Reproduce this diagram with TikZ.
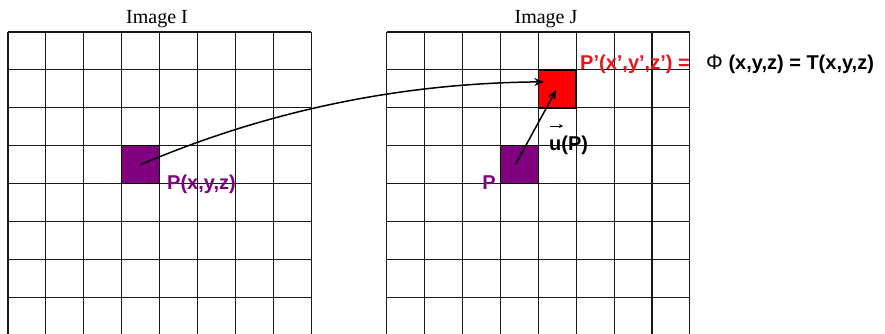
\documentclass[tikz,border=0pt]{standalone}
\usepackage{fontspec}
\setmainfont{Liberation Serif}
\setsansfont{Liberation Sans}
\usetikzlibrary{arrows.meta,calc}
\definecolor{pviolet}{RGB}{128,0,128}
\definecolor{pred}{RGB}{235,20,25}
\newcommand{\aq}{\char39}
\tikzset{
  gridline/.style={draw=black!90,line width=1.1pt},
  cellbox/.style={draw=black,line width=1.5pt,minimum size=37.9pt,inner sep=0pt},
  title/.style={font=\fontsize{20}{22}\selectfont\rmfamily,inner sep=0pt},
  lbl/.style={font=\fontsize{20}{22}\selectfont\sffamily\bfseries,inner sep=0pt},
  arr/.style={line width=1.5pt,-{Stealth[length=10pt,width=8pt]}}
}
\begin{document}
\begin{tikzpicture}[x=1pt,y=-1pt]
\useasboundingbox (0,0) rectangle (885,333);
\clip (0,0) rectangle (885,333);
\fill[white] (0,0) rectangle (885,333);
% grids
\foreach \i in {0,...,8} {
  \draw[gridline] ({8+\i*37.9},32) -- ({8+\i*37.9},340);
  \draw[gridline] (8,{32+\i*37.9}) -- (311.2,{32+\i*37.9});
  \draw[gridline] ({386.7+\i*37.9},32) -- ({386.7+\i*37.9},340);
  \draw[gridline] (386.7,{32+\i*37.9}) -- (689.9,{32+\i*37.9});
}
% titles
\node[title] (tI) at (157,19) {Image I};
\node[title] (tJ) at (546,19) {Image J};
% squares
\node[cellbox,fill=pviolet] (pI) at ({8+3.5*37.9},{32+3.5*37.9}) {};
\node[cellbox,fill=pviolet] (pJ) at ({386.7+3.5*37.9},{32+3.5*37.9}) {};
\node[cellbox,fill=red] (rJ) at ({386.7+4.5*37.9},{32+1.5*37.9}) {};
% labels
\node[lbl,text=pviolet,anchor=west] (lPI) at (167,184) {P(x,y,z)};
\node[lbl,text=pviolet,anchor=east] (lPJ) at (496,183) {P};
\node[lbl,anchor=west] (lu) at (549,145) {u(P)};
\draw[line width=1pt,-{Stealth[length=4pt,width=4pt]}] ($(lu.west)+(1,-19)$) -- ++(13,0);
\node[lbl,text=pred,anchor=west] (lPp) at (580,64) {P\aq(x\aq,y\aq,z\aq) =};
\node[lbl,anchor=west] (lphi) at (706,64) {{\mdseries\fontsize{21}{22}\selectfont\char"03A6} (x,y,z) = T(x,y,z)};
% arrows
\coordinate (aend) at ($(rJ.center)+(-13,-7)$);
\draw[arr] (pI.center) .. controls (271,109) and (405,83) .. (aend);
\coordinate (uend) at ($(rJ.center)+(-1,1)$);
\draw[arr] ($(pJ.center)+(-4,0)$) -- (uend);
\end{tikzpicture}
\end{document}
